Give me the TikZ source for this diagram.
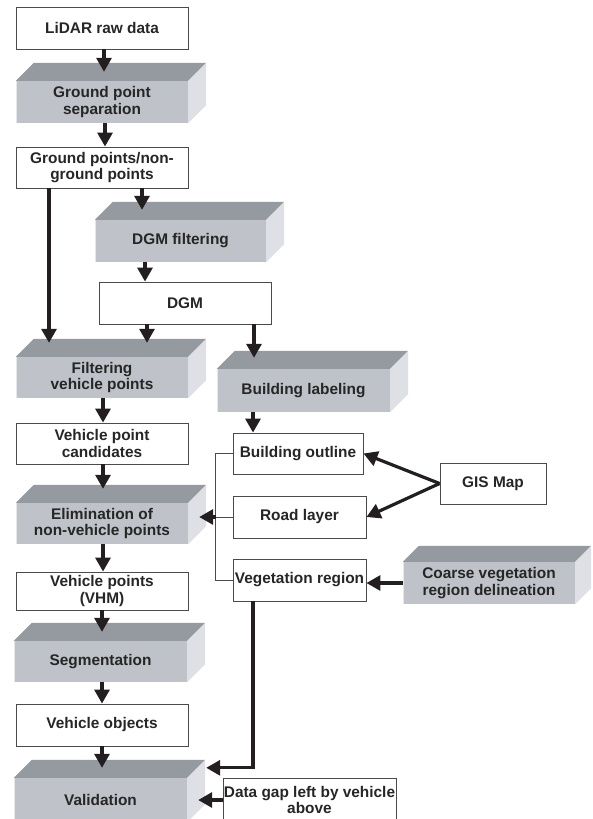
\documentclass[tikz,border=0pt]{standalone}
\usepackage{fontspec}
\setmainfont{Liberation Sans}
\usetikzlibrary{arrows.meta,calc}
\definecolor{topc}{HTML}{959AA1}
\definecolor{frontc}{HTML}{BFC2C9}
\definecolor{sidec}{HTML}{DFE0E6}
\definecolor{ink}{HTML}{231F20}
\definecolor{txt}{HTML}{262626}
\definecolor{edge}{HTML}{4A4A4A}
\newcommand\cubefaces[2]{%
  \fill[topc] (#1.north west) -- ++(#2,-#2) -- ($(#1.north east)+(#2,-#2)$) -- (#1.north east) -- cycle;
  \fill[sidec] (#1.north east) -- ++(#2,-#2) -- ($(#1.south east)+(#2,-#2)$) -- (#1.south east) -- cycle;
  \draw[white!60!frontc, line width=1.2pt] ([xshift=1pt]#1.north west) -- ([xshift=1pt]#1.south west);
}
\begin{document}
\begin{tikzpicture}[x=1pt,y=-1pt,
  every node/.style={font=\fontsize{15.4}{16.5}\selectfont\bfseries, text=txt, align=center, inner sep=0pt},
  wbox/.style={draw=edge, line width=0.9pt, fill=white},
  gbox/.style={fill=frontc},
  arr/.style={draw=ink, line width=3.2pt, -{Triangle[length=14pt,width=15pt]}},
  bracket/.style={draw=edge, line width=0.9pt}]
\useasboundingbox (0,0) rectangle (592,819);
\clip (0,0) rectangle (592,819);

% white boxes
\node[wbox, minimum width=172pt, minimum height=42pt] (lidar) at (102,28) {LiDAR raw data};
\node[wbox, minimum width=172pt, minimum height=41pt] (gpts) at (102,167.5) {Ground points/non-\\ground points};
\node[wbox, minimum width=172pt, minimum height=42pt] (dgm) at (185,303) {DGM};
\node[wbox, minimum width=172pt, minimum height=41pt] (vpc) at (102,443.5) {Vehicle point\\candidates};
\node[wbox, minimum width=172pt, minimum height=38pt] (vhm) at (102,591) {Vehicle points\\(VHM)};
\node[wbox, minimum width=172pt, minimum height=42pt] (vobj) at (102,725) {Vehicle objects};
\node[wbox, minimum width=130pt, minimum height=41pt] (bout) at (298,453.5) {Building outline};
\node[wbox, minimum width=133pt, minimum height=42pt] (road) at (299.5,517) {Road layer};
\node[wbox, minimum width=133pt, minimum height=42pt] (veg) at (299.5,580) {Vegetation region};
\node[wbox, minimum width=106pt, minimum height=41pt] (gis) at (493,483.5) {GIS Map};
\node[wbox, minimum width=173pt, minimum height=44pt] (gap) at (309.5,800) {Data gap left by vehicle\\above};

% grey 3D boxes
\node[gbox, minimum width=172pt, minimum height=42pt] (gps) at (102,102) {Ground point\\separation};
\cubefaces{gps}{18}
\node[gbox, minimum width=171pt, minimum height=42pt] (dgmf) at (180.5,241) {DGM filtering};
\cubefaces{dgmf}{18}
\node[gbox, minimum width=172pt, minimum height=41pt] (fvp) at (102,377.5) {Filtering\\vehicle points};
\cubefaces{fvp}{18}
\node[gbox, minimum width=173pt, minimum height=43pt] (bl) at (303.5,390.5) {Building labeling};
\cubefaces{bl}{18}
\node[gbox, minimum width=172pt, minimum height=41pt] (elim) at (102,523.5) {Elimination of\\non-vehicle points};
\cubefaces{elim}{18}
\node[gbox, minimum width=173pt, minimum height=41pt] (seg) at (100.5,661.5) {Segmentation};
\cubefaces{seg}{18}
\node[gbox, minimum width=173pt, minimum height=44pt] (val) at (100.5,800) {Validation};
\cubefaces{val}{18}
\node[gbox, minimum width=172pt, minimum height=42pt] (coarse) at (489,583) {Coarse vegetation\\region delineation};
\cubefaces{coarse}{16}

% arrows
\draw[arr] ([xshift=2pt]lidar.south) -- ([xshift=2pt,yshift=9pt]gps.north);
\draw[arr] ([xshift=3pt]gps.south) -- ([xshift=3pt]gpts.north);
\draw[arr] ([xshift=40pt]gpts.south) -- ([xshift=-38.5pt,yshift=10pt]dgmf.north);
\draw[arr] ([xshift=-53pt]gpts.south) -- ([xshift=-53pt,yshift=14pt]fvp.north);
\draw[arr] ([xshift=-35.5pt]dgmf.south) -- ([xshift=-40pt]dgm.north);
\draw[arr] ([xshift=-38pt]dgm.south) -- ([xshift=45pt,yshift=14pt]fvp.north);
\draw[arr] ([xshift=69pt]dgm.south) -- ([xshift=-49.5pt,yshift=11pt]bl.north);
\draw[arr] ([xshift=-50.5pt]bl.south) -- ([xshift=-45pt]bout.north);
\draw[arr] ([xshift=1pt]fvp.south) -- ([xshift=1pt]vpc.north);
\draw[arr] ([xshift=1pt]vpc.south) -- ([xshift=1pt,yshift=14pt]elim.north);
\draw[arr] ([xshift=1pt]elim.south) -- ([xshift=1pt]vhm.north);
\draw[arr] (vhm.south) -- ([xshift=1.5pt,yshift=9pt]seg.north);
\draw[arr] ([xshift=1.5pt]seg.south) -- (vobj.north);
\draw[arr] (vobj.south) -- ([xshift=1.5pt,yshift=10pt]val.north);
\draw[arr] (gis.west) -- (bout.east);
\draw[arr] (gis.west) -- (road.east);
\draw[arr] (coarse.west) -- (coarse.west -| veg.east);
\draw[arr] ([xshift=-46.5pt]veg.south) |- ($(val.north east)+(19,-10)$);
\draw[arr] (gap.west) -- ($(val.east)+(11,0)$);

% bracket
\draw[bracket] (bout.west) -- ++(-17,0) |- (veg.west);
\draw[bracket] (road.west) -- ++(-17,0);
\draw[arr] ($(road.west)+(-17,0)$) -- ($(road.west -| elim.east)+(11,0)$);
\end{tikzpicture}
\end{document}
